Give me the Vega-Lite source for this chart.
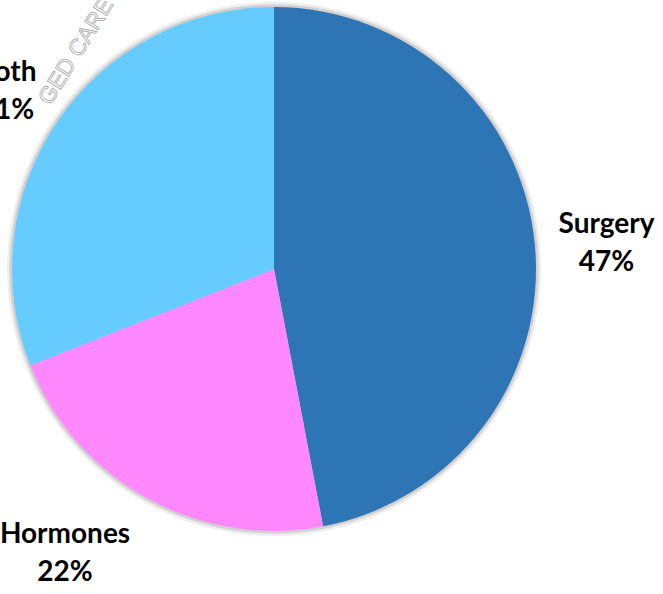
{
  "$schema": "https://vega.github.io/schema/vega-lite/v6.json",
  "width": 548,
  "height": 538,
  "autosize": "none",
  "padding": {"left": 0, "top": 0, "right": 115, "bottom": 56},
  "background": "white",
  "view": {"stroke": null},
  "datasets": {
    "shares": [
      {"treatment": "Surgery", "pct": 47, "label": "Surgery\n47%", "ord": 1},
      {"treatment": "Hormones", "pct": 22, "label": "Hormones\n22%", "ord": 2},
      {"treatment": "Both", "pct": 31, "label": "Both\n31%", "ord": 3}
    ],
    "watermark": [
      {"text": "GED CARE", "r": 1}
    ]
  },
  "data": {"name": "shares"},
  "layer": [
    {
      "data": {"name": "watermark"},
      "mark": {"type": "text", "radius": 294, "theta": 5.545, "angle": -58, "font": "Liberation Sans", "fontSize": 23, "fill": "#ffffff", "stroke": "#a8a8a8", "strokeWidth": 0.8, "align": "center", "baseline": "middle"},
      "encoding": {"text": {"field": "text"}}
    },
    {
      "mark": {"type": "arc", "theta": 0, "theta2": 6.2832, "radius": 267, "fill": "#000000", "opacity": 0.025},
      "encoding": {}
    },
    {
      "mark": {"type": "arc", "theta": 0, "theta2": 6.2832, "radius": 264.5, "fill": "#000000", "opacity": 0.04},
      "encoding": {}
    },
    {
      "mark": {"type": "arc", "radius": 262, "stroke": null},
      "encoding": {
        "theta": {"field": "pct", "type": "quantitative", "stack": true},
        "order": {"field": "ord", "type": "quantitative"},
        "color": {
          "field": "treatment",
          "type": "nominal",
          "scale": {"domain": ["Surgery", "Hormones", "Both"], "range": ["#2E75B6", "#FF88FF", "#66CCFF"]},
          "legend": null
        }
      }
    },
    {
      "mark": {"type": "text", "radius": 326, "dx": 8, "dy": -13, "font": "Lato", "fontWeight": "bold", "fontSize": 28, "lineBreak": "\n", "lineHeight": 38, "align": "center", "baseline": "middle", "fill": "#000000"},
      "encoding": {
        "theta": {"field": "pct", "type": "quantitative", "stack": true},
        "order": {"field": "ord", "type": "quantitative"},
        "text": {"condition": {"test": "datum.treatment === 'Surgery'", "field": "label"}, "value": ""}
      }
    },
    {
      "mark": {"type": "text", "radius": 326, "dx": 2, "dy": -13, "font": "Lato", "fontWeight": "bold", "fontSize": 28, "lineBreak": "\n", "lineHeight": 38, "align": "center", "baseline": "middle", "fill": "#000000"},
      "encoding": {
        "theta": {"field": "pct", "type": "quantitative", "stack": true},
        "order": {"field": "ord", "type": "quantitative"},
        "text": {"condition": {"test": "datum.treatment === 'Both'", "field": "label"}, "value": ""}
      }
    },
    {
      "mark": {"type": "text", "radius": 330, "dx": -50, "dy": -23, "font": "Lato", "fontWeight": "bold", "fontSize": 28, "lineBreak": "\n", "lineHeight": 38, "align": "center", "baseline": "middle", "fill": "#000000"},
      "encoding": {
        "theta": {"field": "pct", "type": "quantitative", "stack": true},
        "order": {"field": "ord", "type": "quantitative"},
        "text": {"condition": {"test": "datum.treatment === 'Hormones'", "field": "label"}, "value": ""}
      }
    }
  ]
}
